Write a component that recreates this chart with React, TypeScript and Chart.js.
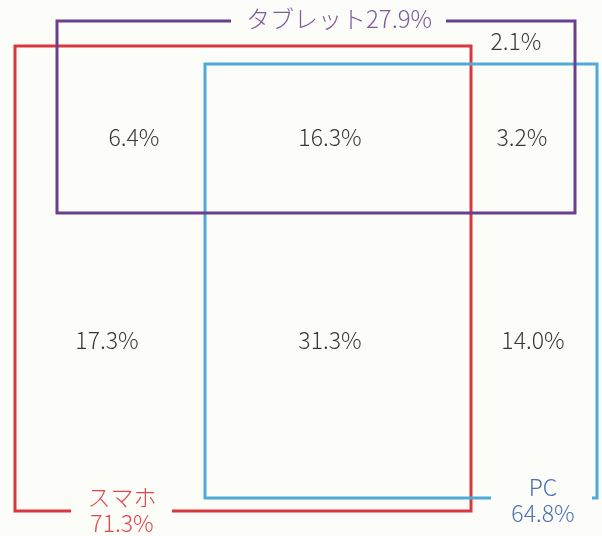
import React, { useEffect, useRef } from "react";
import { Chart, registerables } from "chart.js";

Chart.register(...registerables);

// Diagram space (units = pixels of a 602x536 sheet, y downward)
const sheetW = 602;
const sheetH = 536;

// Set names, shares and colors
const setNames = ["タブレット", "スマホ", "PC"];
const setShares = [27.9, 71.3, 64.8];
const setColors = ["#6b3f8e", "#d9363e", "#4eaad6"];
const setTextColors = ["#7d5a9e", "#e2474c", "#4a70b3"];

// Rectangle bounds [left, top, right, bottom] for each set
const tabletBox = [57, 21, 575, 213];
const phoneBox = [15, 46, 471, 511];
const pcBox = [205, 64, 597, 498];

// Gap in each box outline where the set label sits [from, to] along the x axis
const tabletGap = [231, 446];
const phoneGap = [71, 172];
const pcGap = [491, 592];

// Region values (%) and their label anchor points
const regionValues = [6.4, 16.3, 3.2, 2.1, 17.3, 31.3, 14.0];
const regionX = [134, 330, 522, 516, 107, 330, 533];
const regionY = [137, 137, 137, 41, 340, 340, 340];

// Set label anchor points
const setLabelX = [339, 122, 543];
const setLabelY = [19, 497, 487];

function outlineTop(box: number[], gap: number[]) {
  const [l, t, r, b] = box;
  return [
    { x: gap[0], y: t },
    { x: l, y: t },
    { x: l, y: b },
    { x: r, y: b },
    { x: r, y: t },
    { x: gap[1], y: t },
  ];
}
function outlineBottom(box: number[], gap: number[]) {
  const [l, t, r, b] = box;
  return [
    { x: gap[0], y: b },
    { x: l, y: b },
    { x: l, y: t },
    { x: r, y: t },
    { x: r, y: b },
    { x: gap[1], y: b },
  ];
}

const FONT = '"Noto Sans CJK JP", "Noto Sans", sans-serif';

const labelPlugin = {
  id: "vennLabels",
  afterDatasetsDraw(chart: any) {
    const ctx = chart.ctx;
    const xs = chart.scales.x;
    const ys = chart.scales.y;
    ctx.save();
    ctx.textAlign = "center";
    ctx.textBaseline = "middle";
    ctx.font = "300 23px " + FONT;
    ctx.fillStyle = "#383838";
    regionValues.forEach((v, i) => {
      ctx.fillText(v.toFixed(1) + "%", xs.getPixelForValue(regionX[i]), ys.getPixelForValue(regionY[i]));
    });
    // Tablet label (single line)
    ctx.font = "300 24px " + FONT;
    ctx.fillStyle = setTextColors[0];
    ctx.fillText(setNames[0] + setShares[0].toFixed(1) + "%", xs.getPixelForValue(setLabelX[0]), ys.getPixelForValue(setLabelY[0]));
    // Phone & PC labels (two lines)
    ctx.font = "300 23px " + FONT;
    for (let i = 1; i < 3; i++) {
      ctx.fillStyle = setTextColors[i];
      const px = xs.getPixelForValue(setLabelX[i]);
      const py = ys.getPixelForValue(setLabelY[i]);
      ctx.fillText(setNames[i], px, py);
      ctx.fillText(setShares[i].toFixed(1) + "%", px, py + 26);
    }
    ctx.restore();
  },
};

const bgPlugin = {
  id: "bg",
  beforeDraw(chart: any) {
    const ctx = chart.ctx;
    ctx.save();
    ctx.fillStyle = "#fcfcf8";
    ctx.fillRect(0, 0, chart.width, chart.height);
    ctx.restore();
  },
};

export default function App() {
  const ref = useRef<HTMLCanvasElement>(null);
  useEffect(() => {
    if (!ref.current) return;
    const lineDs = (data: any[], color: string) => ({
      data,
      borderColor: color,
      borderWidth: 3,
      pointRadius: 0,
      showLine: true,
      tension: 0,
      borderJoinStyle: "miter" as const,
      borderCapStyle: "butt" as const,
      fill: false,
    });
    const chart = new Chart(ref.current, {
      type: "scatter",
      data: {
        datasets: [
          lineDs(outlineTop(tabletBox, tabletGap), setColors[0]),
          lineDs(outlineBottom(pcBox, pcGap), setColors[2]),
          lineDs(outlineBottom(phoneBox, phoneGap), setColors[1]),
        ],
      },
      options: {
        animation: false,
        responsive: false,
        maintainAspectRatio: false,
        layout: { padding: 0 },
        plugins: { legend: { display: false }, tooltip: { enabled: false } },
        scales: {
          x: { type: "linear", min: 0, max: sheetW, display: false },
          y: { type: "linear", min: 0, max: sheetH, reverse: true, display: false },
        },
      },
      plugins: [bgPlugin, labelPlugin],
    });
    return () => chart.destroy();
  }, []);
  return (
    <div style={{ position: "fixed", left: 0, top: 0, width: sheetW, height: sheetH }}>
      <canvas ref={ref} width={sheetW} height={sheetH} style={{ display: "block" }} />
    </div>
  );
}
